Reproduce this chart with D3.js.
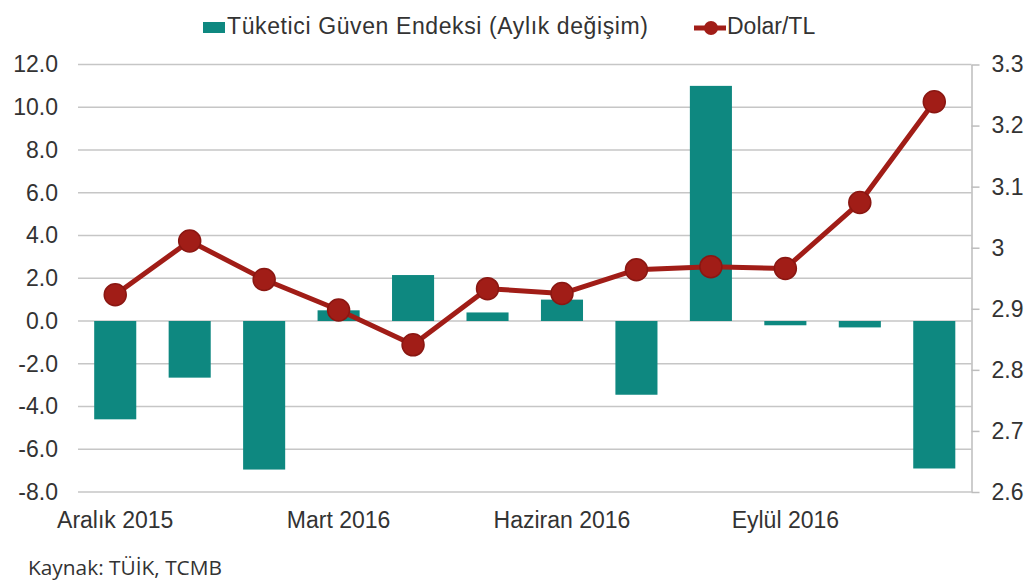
<!DOCTYPE html>
<html>
<head>
<meta charset="utf-8">
<script src="https://cdn.jsdelivr.net/npm/d3@7"></script>
<style>
  html, body { margin: 0; padding: 0; background: #fff; overflow: hidden; }
  svg { display: block; }
  text { font-family: "Liberation Sans", Arial, sans-serif; fill: #333; }
</style>
</head>
<body>
<svg width="1035" height="588"></svg>
<script>
const months = ["Aralık 2015", "Ocak 2016", "Şubat 2016", "Mart 2016", "Nisan 2016", "Mayıs 2016",
  "Haziran 2016", "Temmuz 2016", "Ağustos 2016", "Eylül 2016", "Ekim 2016", "Kasım 2016"]
const xLabels = ["Aralık 2015", "Mart 2016", "Haziran 2016", "Eylül 2016"]
const guven = [-4.6, -2.65, -6.95, 0.5, 2.15, 0.4, 1.0, -3.45, 11.0, -0.2, -0.3, -6.9]
const dolar = [2.923, 3.011, 2.948, 2.898, 2.841, 2.933, 2.925, 2.964, 2.969, 2.966, 3.074, 3.239]
const leftTicks = [-8, -6, -4, -2, 0, 2, 4, 6, 8, 10, 12]
const rightTicks = [2.6, 2.7, 2.8, 2.9, 3.0, 3.1, 3.2, 3.3]

const svg = d3.select('svg')
const margin = {top: 64.5, right: 63.5, bottom: 96, left: 78}
const width = +svg.attr('width')
const height = +svg.attr('height')
const innerWidth = width - margin.left - margin.right
const innerHeight = height - margin.top - margin.bottom

const teal = '#0e8880'
const red = '#a11d17'

const x = d3.scaleBand().domain(months).range([0, innerWidth])
const yL = d3.scaleLinear().domain([-8, 12]).range([innerHeight, 0])
const yR = d3.scaleLinear().domain([2.6, 3.3]).range([innerHeight, 0])

const g = svg.append('g').attr('transform', `translate(${margin.left},${margin.top})`)

// gridlines
g.append('g').selectAll('line').data(leftTicks).enter().append('line')
  .attr('x1', 0).attr('x2', innerWidth)
  .attr('y1', d => yL(d)).attr('y2', d => yL(d))
  .attr('stroke', '#c6c6c6').attr('stroke-width', 1.5)

// left axis
const leftAxis = g.append('g')
  .call(d3.axisLeft(yL).tickValues(leftTicks).tickFormat(d3.format('.1f')).tickSize(0).tickPadding(20))
leftAxis.select('.domain').remove()
leftAxis.selectAll('text').style('font-size', '23px').attr('fill', '#333')
  .text(d => d3.format('.1f')(d).replace('−', '-'))

// right axis
const rightAxis = g.append('g').attr('transform', `translate(${innerWidth},0)`)
  .call(d3.axisRight(yR).tickValues(rightTicks).tickFormat(d => d === 3 ? '3' : d3.format('.1f')(d))
    .tickSizeInner(8).tickSizeOuter(0).tickPadding(12))
rightAxis.select('.domain').attr('stroke', '#bdbdbd').attr('stroke-width', 1.5)
rightAxis.selectAll('.tick line').attr('stroke', '#bdbdbd').attr('stroke-width', 1.5)
rightAxis.selectAll('text').style('font-size', '23px').attr('fill', '#333')

// bars
const barW = x.bandwidth() * 0.565
g.append('g').selectAll('rect').data(guven).enter().append('rect')
  .attr('x', (d, i) => x(months[i]) + (x.bandwidth() - barW) / 2)
  .attr('width', barW)
  .attr('y', d => yL(Math.max(0, d)))
  .attr('height', d => Math.abs(yL(d) - yL(0)))
  .attr('fill', teal)

// line
const line = d3.line()
  .x((d, i) => x(months[i]) + x.bandwidth() / 2)
  .y(d => yR(d))
g.append('path').datum(dolar)
  .attr('d', line).attr('fill', 'none')
  .attr('stroke', red).attr('stroke-width', 5).attr('stroke-linejoin', 'round')
g.append('g').selectAll('circle').data(dolar).enter().append('circle')
  .attr('cx', (d, i) => x(months[i]) + x.bandwidth() / 2)
  .attr('cy', d => yR(d))
  .attr('r', 11)
  .attr('fill', red).attr('stroke', '#8a1712').attr('stroke-width', 1.5)

// x labels
g.append('g').selectAll('text').data(xLabels).enter().append('text')
  .attr('x', d => x(d) + x.bandwidth() / 2)
  .attr('y', innerHeight + 36)
  .attr('text-anchor', 'middle')
  .style('font-size', '23px')
  .text(d => d)

// legend
const leg = svg.append('g')
leg.append('rect').attr('x', 203).attr('y', 22).attr('width', 22).attr('height', 11).attr('fill', teal)
leg.append('text').attr('x', 227).attr('y', 34).style('font-size', '23px')
  .attr('textLength', 421).attr('lengthAdjust', 'spacing')
  .text('Tüketici Güven Endeksi (Aylık değişim)')
leg.append('line').attr('x1', 694).attr('x2', 726).attr('y1', 28).attr('y2', 28)
  .attr('stroke', red).attr('stroke-width', 5)
leg.append('circle').attr('cx', 711).attr('cy', 28).attr('r', 7).attr('fill', red)
leg.append('text').attr('x', 727).attr('y', 34).style('font-size', '23px').text('Dolar/TL')

// source
svg.append('text').attr('x', 28).attr('y', 575)
  .style('font-family', '"Open Sans", Lato, sans-serif').style('font-size', '20px').attr('fill', '#444')
  .attr('textLength', 194).attr('lengthAdjust', 'spacingAndGlyphs')
  .text('Kaynak: TÜİK, TCMB')
</script>
</body>
</html>
